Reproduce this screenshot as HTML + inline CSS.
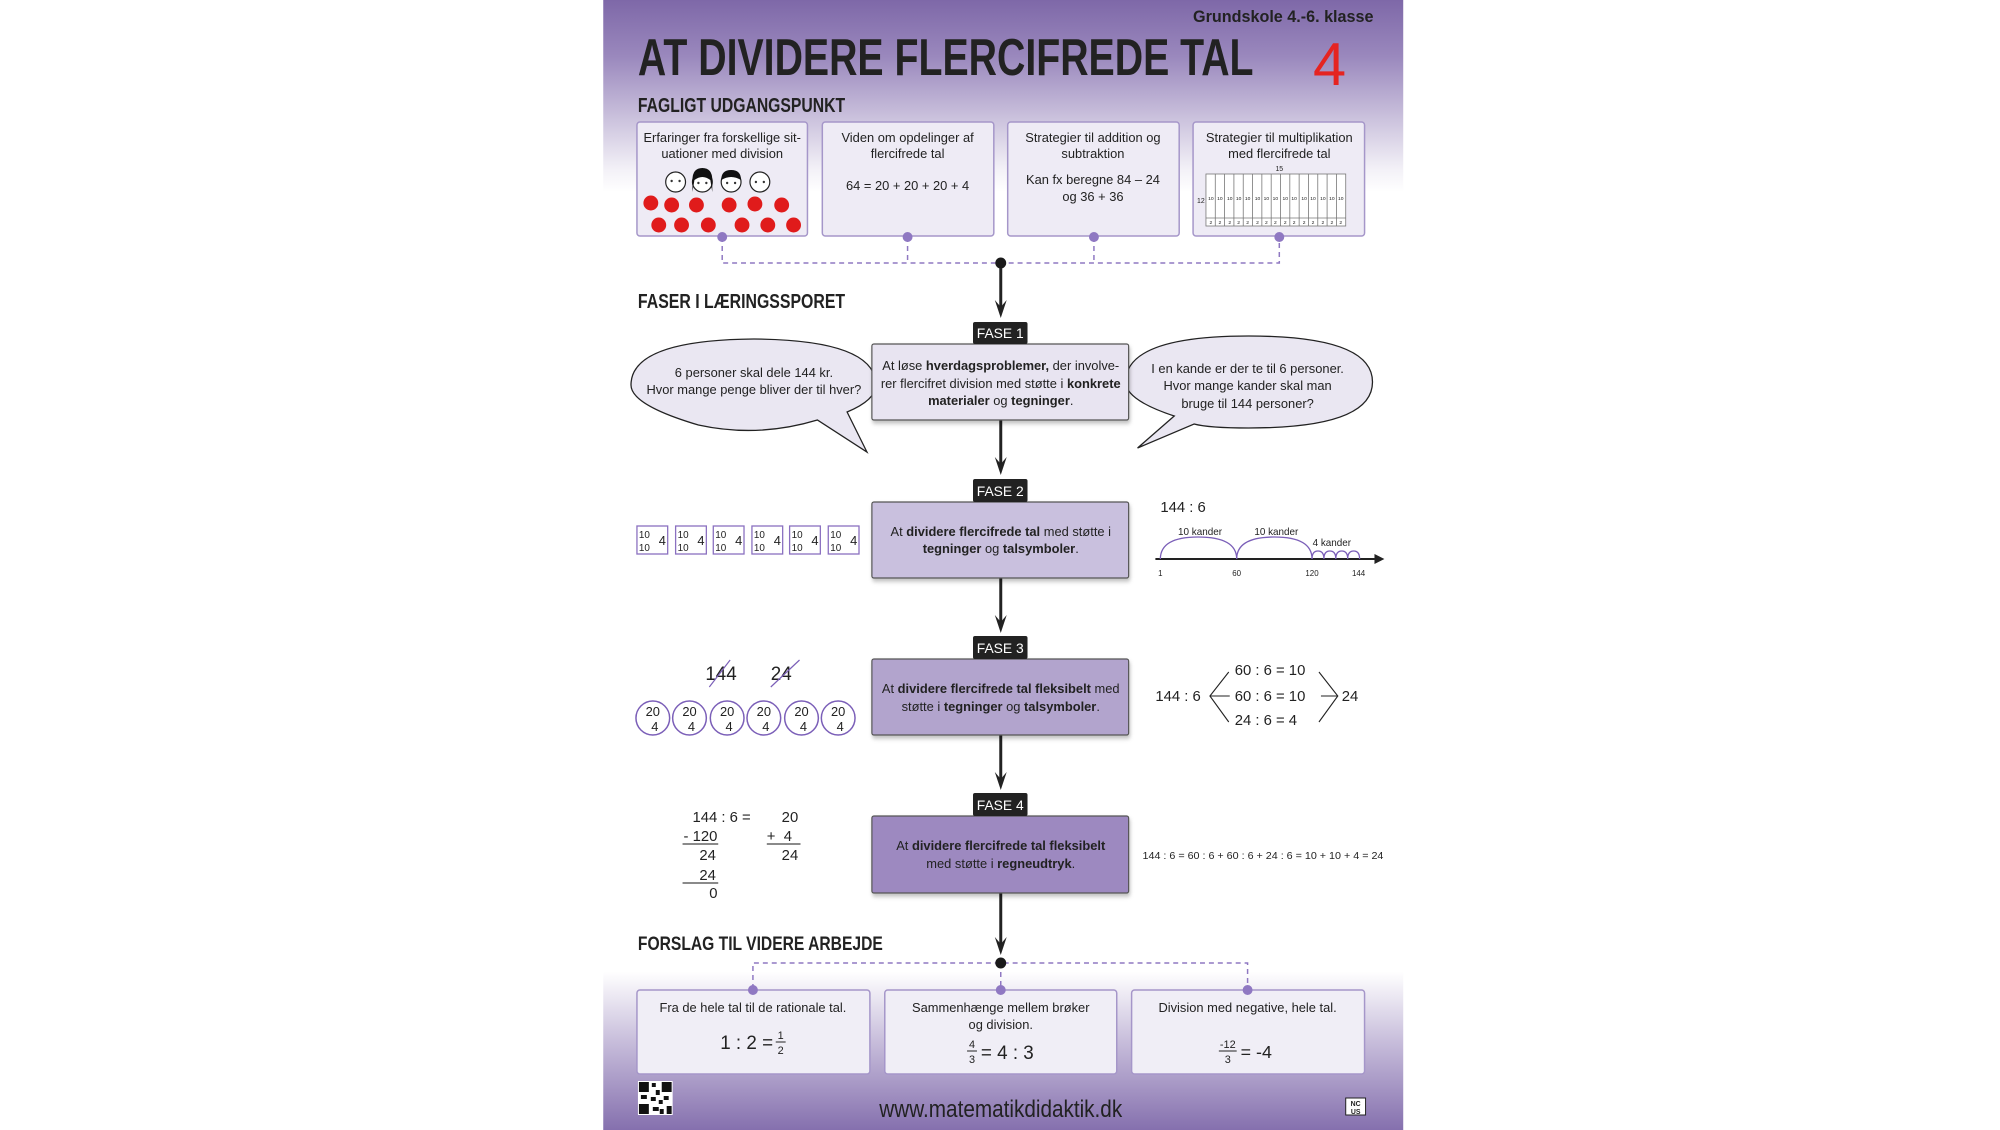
<!DOCTYPE html>
<html><head><meta charset="utf-8"><style>
html,body{margin:0;padding:0;background:#fff;width:2000px;height:1130px;overflow:hidden}
svg{display:block}
text{font-family:"Liberation Sans Narrow","Liberation Sans",sans-serif;fill:#222}
.m{font-family:"Liberation Sans",sans-serif}
</style></head><body>
<svg width="2000" height="1130" viewBox="0 0 2000 1130" xmlns="http://www.w3.org/2000/svg">
<defs>
<linearGradient id="bg" x1="0" y1="0" x2="0" y2="1">
<stop offset="0" stop-color="#7e68a8"/>
<stop offset="0.05" stop-color="#9a88bd"/>
<stop offset="0.15" stop-color="#f3f1f7"/>
<stop offset="0.17" stop-color="#ffffff"/>
<stop offset="0.86" stop-color="#ffffff"/>
<stop offset="0.92" stop-color="#c9bfdc"/>
<stop offset="1" stop-color="#8570ae"/>
</linearGradient>
<filter id="sh" x="-5%" y="-5%" width="110%" height="120%"><feDropShadow dx="1" dy="3" stdDeviation="2" flood-color="#000" flood-opacity="0.25"/></filter>
</defs>
<g transform="matrix(0.9913 0 0 1 4.5 0)">
<rect x="604" y="0" width="807" height="1130" fill="url(#bg)"/>

<text x="1381" y="22" text-anchor="end" font-size="17" font-weight="bold" textLength="182" lengthAdjust="spacingAndGlyphs">Grundskole 4.-6. klasse</text>
<text x="639" y="75" font-size="52" font-weight="bold" fill="#1e1e1e" textLength="621" lengthAdjust="spacingAndGlyphs">AT DIVIDERE FLERCIFREDE TAL</text>
<text x="1320" y="85" font-size="60" class="m" style="fill:#e52421">4</text>
<text x="639" y="112" font-size="20" font-weight="bold" textLength="209" lengthAdjust="spacingAndGlyphs">FAGLIGT UDGANGSPUNKT</text>

<g fill="#eeebf5" stroke="#a596c9" stroke-width="1.5">
<rect x="638" y="122" width="172" height="114" rx="3"/>
<rect x="825" y="122" width="173" height="114" rx="3"/>
<rect x="1012" y="122" width="173" height="114" rx="3"/>
<rect x="1199" y="122" width="173" height="114" rx="3"/>
</g>
<g font-size="13" text-anchor="middle">
<text x="724" y="142">Erfaringer fra forskellige sit-</text>
<text x="724" y="158">uationer med division</text>
<text x="911" y="142">Viden om opdelinger af</text>
<text x="911" y="158">flercifrede tal</text>
<text x="911" y="190">64 = 20 + 20 + 20 + 4</text>
<text x="1098" y="142">Strategier til addition og</text>
<text x="1098" y="158">subtraktion</text>
<text x="1098" y="184">Kan fx beregne 84 – 24</text>
<text x="1098" y="201">og 36 + 36</text>
<text x="1286" y="142">Strategier til multiplikation</text>
<text x="1286" y="158">med flercifrede tal</text>
</g>
<g stroke="#222" stroke-width="1.2" fill="#fff">
<circle cx="677" cy="182" r="10"/><circle cx="704" cy="182" r="10"/><circle cx="733" cy="182" r="10"/><circle cx="762" cy="182" r="10"/>
</g>
<path d="M694,180 Q694,168 704,168 Q714,168 714,180 L714,192 L712,180 Q704,174 696,180 L694,192 Z" fill="#111"/>
<path d="M723,180 Q723,170 733,170 Q743,170 743,180 Q733,174 723,180Z" fill="#111"/>
<g fill="#333"><circle cx="673" cy="181" r="1.2"/><circle cx="681" cy="181" r="1.2"/><circle cx="700" cy="183" r="1.2"/><circle cx="708" cy="183" r="1.2"/><circle cx="729" cy="183" r="1.2"/><circle cx="737" cy="183" r="1.2"/><circle cx="758" cy="182" r="1.2"/><circle cx="766" cy="182" r="1.2"/></g>
<g fill="#e01b1b">
<circle cx="652" cy="203" r="7.5"/><circle cx="673" cy="205" r="7.5"/><circle cx="698" cy="205" r="7.5"/><circle cx="731" cy="205" r="7.5"/><circle cx="757" cy="204" r="7.5"/><circle cx="784" cy="205" r="7.5"/>
<circle cx="660" cy="225" r="7.5"/><circle cx="683" cy="225" r="7.5"/><circle cx="710" cy="225" r="7.5"/><circle cx="744" cy="225" r="7.5"/><circle cx="770" cy="225" r="7.5"/><circle cx="796" cy="225" r="7.5"/>
</g>
<g stroke="#777" stroke-width="0.8" fill="#fff">
<rect x="1212" y="174" width="141" height="52"/>
<line x1="1212" y1="218" x2="1353" y2="218"/>
<path d="M1221.4,174V226M1230.8,174V226M1240.2,174V226M1249.6,174V226M1259,174V226M1268.4,174V226M1277.8,174V226M1287.2,174V226M1296.6,174V226M1306,174V226M1315.4,174V226M1324.8,174V226M1334.2,174V226M1343.6,174V226"/>
</g>
<text x="1286" y="171" font-size="7" text-anchor="middle">15</text>
<text x="1203" y="203" font-size="7">12</text>
<g font-size="5" text-anchor="middle" fill="#555">
<text x="1217" y="200">10</text><text x="1226" y="200">10</text><text x="1236" y="200">10</text><text x="1245" y="200">10</text><text x="1254" y="200">10</text><text x="1264" y="200">10</text><text x="1273" y="200">10</text><text x="1282" y="200">10</text><text x="1292" y="200">10</text><text x="1301" y="200">10</text><text x="1311" y="200">10</text><text x="1320" y="200">10</text><text x="1330" y="200">10</text><text x="1339" y="200">10</text><text x="1348" y="200">10</text>
<text x="1217" y="224">2</text><text x="1226" y="224">2</text><text x="1236" y="224">2</text><text x="1245" y="224">2</text><text x="1254" y="224">2</text><text x="1264" y="224">2</text><text x="1273" y="224">2</text><text x="1282" y="224">2</text><text x="1292" y="224">2</text><text x="1301" y="224">2</text><text x="1311" y="224">2</text><text x="1320" y="224">2</text><text x="1330" y="224">2</text><text x="1339" y="224">2</text><text x="1348" y="224">2</text>
</g>

<g stroke="#8f78c2" stroke-width="1.5" stroke-dasharray="5,4" fill="none">
<path d="M724,237V263H1286V237M911,237V263M1099,237V263"/>
</g>
<g fill="#8f78c2"><circle cx="724" cy="237" r="5"/><circle cx="911" cy="237" r="5"/><circle cx="1099" cy="237" r="5"/><circle cx="1286" cy="237" r="5"/></g>
<circle cx="1005" cy="263" r="5.5" fill="#1a1a1a"/>

<text x="639" y="308" font-size="20" font-weight="bold" textLength="209" lengthAdjust="spacingAndGlyphs">FASER I LÆRINGSSPORET</text>

<g stroke="#222" stroke-width="3">
<line x1="1005" y1="268" x2="1005" y2="308"/>
<line x1="1005" y1="420" x2="1005" y2="465"/>
<line x1="1005" y1="578" x2="1005" y2="623"/>
<line x1="1005" y1="735" x2="1005" y2="780"/>
<line x1="1005" y1="893" x2="1005" y2="945"/>
</g>
<g fill="#222">
<path d="M999,300 L1005,318 L1011,300 L1005,307 Z"/>
<path d="M999,457 L1005,475 L1011,457 L1005,464 Z"/>
<path d="M999,615 L1005,633 L1011,615 L1005,622 Z"/>
<path d="M999,772 L1005,790 L1011,772 L1005,779 Z"/>
<path d="M999,937 L1005,955 L1011,937 L1005,944 Z"/>
</g>

<path d="M820,420 Q760,438 700,425 Q632,405 632,385 Q632,340 756,339 Q879,340 879,385 Q879,400 850,412 L870,452 Z" fill="#eae7f2" stroke="#222" stroke-width="1.3"/>
<path d="M1180,416 Q1131,400 1131,382 Q1131,336 1255,336 Q1380,336 1380,382 Q1380,428 1255,428 Q1215,428 1200,424 L1143,448 Z" fill="#eae7f2" stroke="#222" stroke-width="1.3"/>
<g font-size="13" text-anchor="middle">
<text x="756" y="377">6 personer skal dele 144 kr.</text>
<text x="756" y="394">Hvor mange penge bliver der til hver?</text>
<text x="1254" y="373">I en kande er der te til 6 personer.</text>
<text x="1254" y="390">Hvor mange kander skal man</text>
<text x="1254" y="408">bruge til 144 personer?</text>
</g>

<g stroke="#555" stroke-width="1.2" filter="url(#sh)">
<rect x="875" y="344" width="259" height="76" fill="#e8e4f1" rx="2"/>
<rect x="875" y="502" width="259" height="76" fill="#c9c0de" rx="2"/>
<rect x="875" y="659" width="259" height="76" fill="#b2a4cd" rx="2"/>
<rect x="875" y="816" width="259" height="77" fill="#9d89c0" rx="2"/>
</g>
<g fill="#222">
<rect x="977" y="322" width="55" height="22" rx="2"/>
<rect x="977" y="479" width="55" height="23" rx="2"/>
<rect x="977" y="636" width="55" height="23" rx="2"/>
<rect x="977" y="793" width="55" height="23" rx="2"/>
</g>
<g font-size="14" text-anchor="middle">
<text x="1004.5" y="338" style="fill:#fff">FASE 1</text>
<text x="1004.5" y="496" style="fill:#fff">FASE 2</text>
<text x="1004.5" y="653" style="fill:#fff">FASE 3</text>
<text x="1004.5" y="810" style="fill:#fff">FASE 4</text>
</g>
<g font-size="13" text-anchor="middle">
<text x="1005" y="370">At løse <tspan font-weight="bold">hverdagsproblemer,</tspan> der involve-</text>
<text x="1005" y="388">rer flercifret division med støtte i <tspan font-weight="bold">konkrete</tspan></text>
<text x="1005" y="405"><tspan font-weight="bold">materialer</tspan> og <tspan font-weight="bold">tegninger</tspan>.</text>
<text x="1005" y="536">At <tspan font-weight="bold">dividere flercifrede tal</tspan> med støtte i</text>
<text x="1005" y="553"><tspan font-weight="bold">tegninger</tspan> og <tspan font-weight="bold">talsymboler</tspan>.</text>
<text x="1005" y="693">At <tspan font-weight="bold">dividere flercifrede tal fleksibelt</tspan> med</text>
<text x="1005" y="711">støtte i <tspan font-weight="bold">tegninger</tspan> og <tspan font-weight="bold">talsymboler</tspan>.</text>
<text x="1005" y="850">At <tspan font-weight="bold">dividere flercifrede tal fleksibelt</tspan></text>
<text x="1005" y="868">med støtte i <tspan font-weight="bold">regneudtryk</tspan>.</text>
</g>

<g fill="none" stroke="#8a70c0" stroke-width="1.3">
<rect x="638" y="526" width="31" height="28"/><rect x="677" y="526" width="31" height="28"/><rect x="715" y="526" width="31" height="28"/><rect x="754" y="526" width="31" height="28"/><rect x="792" y="526" width="31" height="28"/><rect x="831" y="526" width="31" height="28"/>
</g>
<g font-size="10">
<text x="640" y="538" class="m">10</text><text x="640" y="551" class="m">10</text><text x="660" y="545" font-size="13" class="m">4</text>
<text x="679" y="538" class="m">10</text><text x="679" y="551" class="m">10</text><text x="699" y="545" font-size="13" class="m">4</text>
<text x="717" y="538" class="m">10</text><text x="717" y="551" class="m">10</text><text x="737" y="545" font-size="13" class="m">4</text>
<text x="756" y="538" class="m">10</text><text x="756" y="551" class="m">10</text><text x="776" y="545" font-size="13" class="m">4</text>
<text x="794" y="538" class="m">10</text><text x="794" y="551" class="m">10</text><text x="814" y="545" font-size="13" class="m">4</text>
<text x="833" y="538" class="m">10</text><text x="833" y="551" class="m">10</text><text x="853" y="545" font-size="13" class="m">4</text>
</g>

<text x="1166" y="512" font-size="15" class="m">144 : 6</text>
<line x1="1161" y1="559" x2="1382" y2="559" stroke="#222" stroke-width="2"/>
<path d="M1382,554 L1392,559 L1382,564Z" fill="#222"/>
<g fill="none" stroke="#7b5fb8" stroke-width="1.3">
<path d="M1166,559 Q1166,537 1204,537 Q1243,537 1243,559"/>
<path d="M1243,559 Q1243,537 1281,537 Q1319,537 1319,559"/>
<path d="M1319,559 Q1319,551 1325,551 Q1331,551 1331,559 Q1331,551 1337,551 Q1343,551 1343,559 Q1343,551 1349,551 Q1355,551 1355,559 Q1355,551 1361,551 Q1367,551 1367,559"/>
</g>
<g font-size="10" text-anchor="middle">
<text x="1206" y="535">10 kander</text><text x="1283" y="535">10 kander</text><text x="1339" y="546">4 kander</text>
</g>
<g font-size="8" text-anchor="middle">
<text x="1166" y="576">1</text><text x="1243" y="576">60</text><text x="1319" y="576">120</text><text x="1366" y="576">144</text>
</g>

<g font-size="19">
<text x="707" y="680" class="m">144</text><text x="773" y="680" class="m">24</text>
</g>
<g stroke="#7b5fb8" stroke-width="1.2"><line x1="711" y1="687" x2="732" y2="660"/><line x1="773" y1="687" x2="802" y2="660"/></g>
<g fill="none" stroke="#7b5fb8" stroke-width="1.5">
<circle cx="654" cy="718" r="17"/><circle cx="691" cy="718" r="17"/><circle cx="729" cy="718" r="17"/><circle cx="766" cy="718" r="17"/><circle cx="804" cy="718" r="17"/><circle cx="841" cy="718" r="17"/>
</g>
<g font-size="13" text-anchor="middle">
<text x="654" y="716" class="m">20</text><text x="656" y="731" class="m">4</text>
<text x="691" y="716" class="m">20</text><text x="693" y="731" class="m">4</text>
<text x="729" y="716" class="m">20</text><text x="731" y="731" class="m">4</text>
<text x="766" y="716" class="m">20</text><text x="768" y="731" class="m">4</text>
<text x="804" y="716" class="m">20</text><text x="806" y="731" class="m">4</text>
<text x="841" y="716" class="m">20</text><text x="843" y="731" class="m">4</text>
</g>
<g font-size="15">
<text x="1161" y="701" class="m">144 : 6</text>
<text x="1241" y="675" class="m">60 : 6 = 10</text>
<text x="1241" y="701" class="m">60 : 6 = 10</text>
<text x="1241" y="725" class="m">24 : 6 = 4</text>
<text x="1349" y="701" class="m">24</text>
</g>
<g fill="none" stroke="#222" stroke-width="1.1">
<path d="M1235,672 L1216,696 L1235,722 M1216,696 H1236"/>
<path d="M1326,672 L1345,696 L1326,722 M1328,696 H1345"/>
</g>

<g font-size="15">
<text x="694" y="822" class="m">144 : 6 =</text>
<text x="784" y="822" class="m">20</text>
<text x="685" y="841" class="m">- 120</text>
<text x="769" y="841" class="m">+&#160;&#160;4</text>
<text x="701" y="860" class="m">24</text>
<text x="784" y="860" class="m">24</text>
<text x="701" y="880" class="m">24</text>
<text x="711" y="898" class="m">0</text>
</g>
<g stroke="#444" stroke-width="1.2"><line x1="684" y1="844" x2="720" y2="844"/><line x1="769" y1="844" x2="803" y2="844"/><line x1="684" y1="883" x2="720" y2="883"/></g>
<text x="1148" y="859" font-size="10" class="m" textLength="243" lengthAdjust="spacingAndGlyphs">144 : 6 = 60 : 6 + 60 : 6 + 24 : 6 = 10 + 10 + 4 = 24</text>

<text x="639" y="950" font-size="19" font-weight="bold" textLength="247" lengthAdjust="spacingAndGlyphs">FORSLAG TIL VIDERE ARBEJDE</text>
<g stroke="#8f78c2" stroke-width="1.5" stroke-dasharray="5,4" fill="none">
<path d="M755,989V963H1254V989M1005,963V989"/>
</g>
<circle cx="1005" cy="963" r="5.5" fill="#1a1a1a"/>
<g fill="#f0eef6" stroke="#a596c9" stroke-width="1.5">
<rect x="638" y="990" width="235" height="84" rx="3"/>
<rect x="888" y="990" width="234" height="84" rx="3"/>
<rect x="1137" y="990" width="235" height="84" rx="3"/>
</g>
<g fill="#8f78c2"><circle cx="755" cy="990" r="5"/><circle cx="1005" cy="990" r="5"/><circle cx="1254" cy="990" r="5"/></g>
<g font-size="13" text-anchor="middle">
<text x="755" y="1012">Fra de hele tal til de rationale tal.</text>
<text x="1005" y="1012">Sammenhænge mellem brøker</text>
<text x="1005" y="1029">og division.</text>
<text x="1254" y="1012">Division med negative, hele tal.</text>
</g>
<g>
<text x="722" y="1049" font-size="19" class="m">1 : 2 =</text>
<text x="783" y="1039" font-size="11" text-anchor="middle" class="m">1</text>
<line x1="778" y1="1042" x2="788" y2="1042" stroke="#222"/>
<text x="783" y="1054" font-size="11" text-anchor="middle" class="m">2</text>
<text x="976" y="1048" font-size="11" text-anchor="middle" class="m">4</text>
<line x1="971" y1="1051" x2="981" y2="1051" stroke="#222"/>
<text x="976" y="1063" font-size="11" text-anchor="middle" class="m">3</text>
<text x="985" y="1059" font-size="19" class="m">= 4 : 3</text>
<text x="1234" y="1048" font-size="11" text-anchor="middle" class="m">-12</text>
<line x1="1225" y1="1051" x2="1243" y2="1051" stroke="#222"/>
<text x="1234" y="1063" font-size="11" text-anchor="middle" class="m">3</text>
<text x="1247" y="1058" font-size="18" class="m">= -4</text>
</g>

<rect x="639" y="1081" width="35" height="34" fill="#fff"/>
<g fill="#111">
<rect x="640" y="1082" width="10" height="10"/><rect x="663" y="1082" width="10" height="10"/><rect x="640" y="1104" width="10" height="10"/>
<rect x="653" y="1083" width="4" height="4"/><rect x="657" y="1090" width="4" height="5"/><rect x="652" y="1097" width="5" height="4"/><rect x="660" y="1100" width="4" height="4"/><rect x="665" y="1096" width="5" height="4"/><rect x="668" y="1106" width="5" height="8"/><rect x="654" y="1107" width="6" height="4"/><rect x="642" y="1095" width="6" height="4"/><rect x="661" y="1109" width="4" height="5"/>
</g>
<text x="1005" y="1117" font-size="24" text-anchor="middle" class="m" textLength="245" lengthAdjust="spacingAndGlyphs">www.matematikdidaktik.dk</text>
<rect x="1353" y="1098" width="20" height="17" fill="#fff" stroke="#222" stroke-width="1"/>
<text x="1363" y="1106" font-size="7" font-weight="bold" text-anchor="middle">NC</text>
<text x="1363" y="1114" font-size="7" font-weight="bold" text-anchor="middle">US</text>
</g>
</svg>
</body></html>
